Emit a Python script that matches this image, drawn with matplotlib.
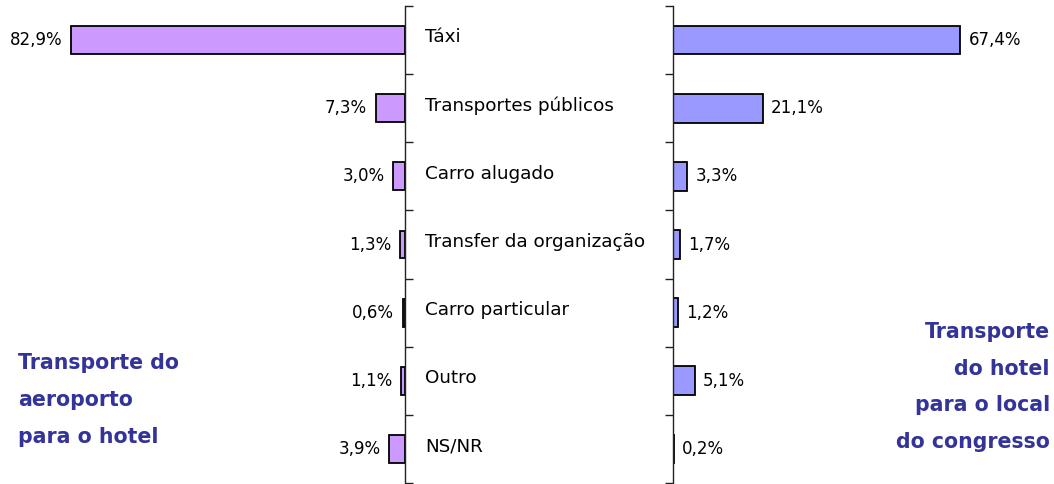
import numpy as np
import matplotlib
matplotlib.use("Agg")
import matplotlib.pyplot as plt

categories = ["Táxi", "Transportes públicos", "Carro alugado", "Transfer da organização",
              "Carro particular", "Outro", "NS/NR"]
airport_to_hotel = [82.9, 7.3, 3.0, 1.3, 0.6, 1.1, 3.9]
hotel_to_congress = [67.4, 21.1, 3.3, 1.7, 1.2, 5.1, 0.2]

left_title = "Transporte do\naeroporto\npara o hotel"
right_title = "Transporte\ndo hotel\npara o local\ndo congresso"

W, H = 1054, 484
fig = plt.figure(figsize=(W / 100, H / 100), dpi=100)


def fx(px):
    return px / W


def fy(py):
    return 1 - py / H


y = np.arange(len(categories))
bounds = np.arange(len(categories) + 1) - 0.5
top, bottom = 6, 483

# left panel: bars grow leftwards from the spine
ax_l = fig.add_axes([fx(2), fy(bottom), fx(405 - 2), fy(top) - fy(bottom)])
ax_l.barh(y, airport_to_hotel, height=0.41, color="#CC99FF", edgecolor="black", linewidth=1.3)
ax_l.set_xlim(100, 0)
ax_l.set_ylim(6.5, -0.5)

# right panel
ax_r = fig.add_axes([fx(673), fy(bottom), fx(1050 - 673), fy(top) - fy(bottom)])
ax_r.barh(y, hotel_to_congress, height=0.42, color="#9999FF", edgecolor="black", linewidth=1.3)
ax_r.set_xlim(0, 88.5)
ax_r.set_ylim(6.5, -0.5)

for ax, side in ((ax_l, "right"), (ax_r, "left")):
    for s in ("top", "bottom", "left", "right"):
        ax.spines[s].set_visible(s == side)
    ax.spines[side].set_color("#222222")
    ax.spines[side].set_linewidth(1.0)
    ax.set_xticks([])
    ax.set_yticks(bounds)
    ax.set_yticklabels([])
    ax.tick_params(axis="y", direction="out", length=6, width=1.0, color="#222222",
                   left=(side == "left"), right=(side == "right"))
    ax.patch.set_visible(False)

value_font = dict(fontsize=12, color="black", family="DejaVu Sans")
cat_font = dict(fontsize=13.2, color="black", family="DejaVu Sans")

for yi, v in zip(y, airport_to_hotel):
    ax_l.annotate(f"{v:.1f}%".replace(".", ","), (v, yi), xytext=(-6, 0),
                  textcoords="offset points", ha="right", va="center", **value_font)

for yi, v in zip(y, hotel_to_congress):
    ax_r.annotate(f"{v:.1f}%".replace(".", ","), (v, yi), xytext=(6, 0),
                  textcoords="offset points", ha="left", va="center", **value_font)

row_tf = matplotlib.transforms.blended_transform_factory(fig.transFigure, ax_l.transData)
for yi, name in zip(y, categories):
    ax_l.text(fx(425), yi - 0.04, name, transform=row_tf, ha="left", va="center", **cat_font)

title_font = dict(fontsize=14.8, color="#333399", fontweight="bold", linespacing=2.05)
fig.text(fx(18), fy(400), left_title, ha="left", va="center", **title_font)
fig.text(fx(1050), fy(387), right_title, ha="right", va="center", multialignment="right",
         **title_font)

fig.savefig("out.png", dpi=100)
